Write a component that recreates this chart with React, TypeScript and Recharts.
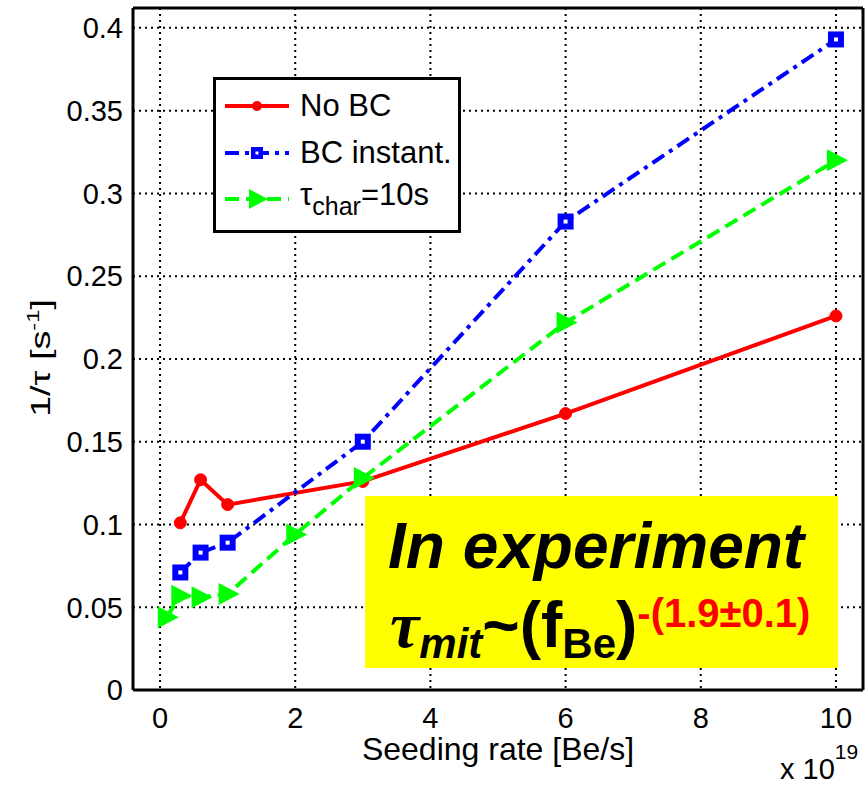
import React from "react";
import { LineChart, Line, XAxis, YAxis, CartesianGrid, Legend } from "recharts";

// seeding rate in units of 1e19 Be/s
const noBcX = [0.3, 0.6, 1, 3, 6, 10];
const noBcY = [0.101, 0.127, 0.112, 0.126, 0.167, 0.226];

const bcInstantX = [0.3, 0.6, 1, 3, 6, 10];
const bcInstantY = [0.071, 0.083, 0.089, 0.15, 0.283, 0.393];

const tauCharX = [0.1, 0.3, 0.6, 1, 2, 3, 6, 10];
const tauCharY = [0.044, 0.057, 0.056, 0.058, 0.094, 0.128, 0.222, 0.32];

const xTicks = [0, 2, 4, 6, 8, 10];
const yTicks = [0, 0.05, 0.1, 0.15, 0.2, 0.25, 0.3, 0.35, 0.4];

const RED = "#ff0000";
const BLUE = "#0000ff";
const GREEN = "#00ff00";
const FONT = "'Liberation Sans', Arial, sans-serif";

const toPoints = (xs: number[], ys: number[]) => xs.map((x, i) => ({ x, y: ys[i] }));

const noBc = toPoints(noBcX, noBcY);
const bcInstant = toPoints(bcInstantX, bcInstantY);
const tauChar = toPoints(tauCharX, tauCharY);

function RedDot(props: any) {
  const { cx, cy } = props;
  if (cx == null || cy == null) return null;
  return <circle key={`r${cx}`} cx={cx} cy={cy} r={6} fill={RED} stroke={RED} />;
}

function BlueSquare(props: any) {
  const { cx, cy } = props;
  if (cx == null || cy == null) return null;
  return (
    <g key={`b${cx}`}>
      <rect x={cx - 8} y={cy - 8} width={16} height={16} fill={BLUE} />
      <rect x={cx - 2} y={cy - 2} width={4} height={4} fill="#fff" />
    </g>
  );
}

function GreenTriangle(props: any) {
  const { cx, cy } = props;
  if (cx == null || cy == null) return null;
  return (
    <polygon
      key={`g${cx}`}
      points={`${cx - 9},${cy - 11} ${cx + 12},${cy} ${cx - 9},${cy + 11}`}
      fill={GREEN}
    />
  );
}

const legendRows = [
  { name: "No BC", color: RED, dash: undefined, marker: "dot" },
  { name: "BC instant.", color: BLUE, dash: "14 6 4 6", marker: "square" },
  { name: "tau", color: GREEN, dash: "14 7", marker: "tri" },
];

function LegendBox() {
  return (
    <div
      style={{
        width: 242,
        height: 150,
        border: "3px solid #000",
        background: "#fff",
        fontFamily: FONT,
        fontSize: 31,
        color: "#000",
        position: "relative",
      }}
    >
      {legendRows.map((row, i) => (
        <div
          key={row.name}
          style={{ position: "absolute", left: 0, top: 4 + i * 46.5, height: 44, display: "flex", alignItems: "center" }}
        >
          <svg width={84} height={44} style={{ display: "block" }}>
            <line x1={9} x2={73} y1={22} y2={22} stroke={row.color} strokeWidth={4} strokeDasharray={row.dash} />
            {row.marker === "dot" && <circle cx={41} cy={22} r={5} fill={RED} />}
            {row.marker === "square" && (
              <g>
                <rect x={35} y={16} width={12} height={12} fill={BLUE} />
                <rect x={39.5} y={20.5} width={3} height={3} fill="#fff" />
              </g>
            )}
            {row.marker === "tri" && <polygon points="33,12 52,22 33,32" fill={GREEN} />}
          </svg>
          {row.marker === "tri" ? (
            <span style={{ whiteSpace: "nowrap" }}>
              τ<sub style={{ fontSize: 25, verticalAlign: -10 }}>char</sub>=10s
            </span>
          ) : (
            <span style={{ whiteSpace: "nowrap" }}>{row.name}</span>
          )}
        </div>
      ))}
    </div>
  );
}

export default function App() {
  const axisLine = { stroke: "#000", strokeWidth: 3 };
  const tickStyle = { fill: "#000", fontSize: 29, fontFamily: FONT };
  return (
    <div style={{ position: "absolute", left: 0, top: 0, width: 867, height: 785, background: "#fff" }}>
      <LineChart width={867} height={785} margin={{ top: 8, right: 4, bottom: 0, left: 0 }}>
        <CartesianGrid stroke="#000" strokeWidth={2} strokeDasharray="2 4" />
        <XAxis
          type="number"
          dataKey="x"
          domain={[-0.4, 10.4]}
          ticks={xTicks}
          allowDataOverflow
          height={95}
          tickLine={false}
          tickSize={6}
          tickMargin={11}
          axisLine={axisLine}
          tick={tickStyle}
          label={{ value: "Seeding rate [Be/s]", position: "insideBottom", offset: 25, fill: "#000", fontSize: 32, fontFamily: FONT }}
        />
        <XAxis
          xAxisId="bottomTicks"
          type="number"
          dataKey="x"
          domain={[-0.4, 10.4]}
          ticks={xTicks}
          allowDataOverflow
          mirror
          tick={false}
          tickSize={9}
          tickLine={{ stroke: "#000", strokeWidth: 3 }}
          axisLine={false}
        />
        <XAxis
          xAxisId="top"
          orientation="top"
          type="number"
          dataKey="x"
          domain={[-0.4, 10.4]}
          ticks={xTicks}
          allowDataOverflow
          mirror
          tick={false}
          tickSize={9}
          tickLine={{ stroke: "#000", strokeWidth: 3 }}
          axisLine={axisLine}
        />
        <YAxis
          type="number"
          domain={[0, 0.412]}
          ticks={yTicks}
          allowDataOverflow
          width={133}
          tickLine={false}
          tickSize={6}
          tickMargin={4}
          axisLine={axisLine}
          tick={tickStyle}
        />
        <YAxis
          yAxisId="leftTicks"
          type="number"
          domain={[0, 0.412]}
          ticks={yTicks}
          allowDataOverflow
          mirror
          tick={false}
          tickSize={9}
          tickLine={{ stroke: "#000", strokeWidth: 3 }}
          axisLine={false}
        />
        <YAxis
          yAxisId="right"
          orientation="right"
          type="number"
          domain={[0, 0.412]}
          ticks={yTicks}
          allowDataOverflow
          mirror
          tick={false}
          tickSize={9}
          tickLine={{ stroke: "#000", strokeWidth: 3 }}
          axisLine={axisLine}
        />
        <Line
          data={noBc}
          dataKey="y"
          name="No BC"
          stroke={RED}
          strokeWidth={4}
          dot={RedDot}
          activeDot={false}
          isAnimationActive={false}
        />
        <Line
          data={bcInstant}
          dataKey="y"
          name="BC instant."
          stroke={BLUE}
          strokeWidth={4}
          strokeDasharray="14 6 4 6"
          dot={BlueSquare}
          activeDot={false}
          isAnimationActive={false}
        />
        <Line
          data={tauChar}
          dataKey="y"
          name="tau_char=10s"
          stroke={GREEN}
          strokeWidth={4}
          strokeDasharray="14 7"
          dot={GreenTriangle}
          activeDot={false}
          isAnimationActive={false}
        />
        <Legend
          layout="vertical"
          align="center"
          verticalAlign="middle"
          content={() => <LegendBox />}
          wrapperStyle={{ left: 213, top: 77, width: 248, height: 156 }}
        />
      </LineChart>
      <svg
        width={867}
        height={785}
        style={{ position: "absolute", left: 0, top: 0, pointerEvents: "none" }}
      >
        <text
          transform="translate(50,358) rotate(-90) scale(1.4,1)"
          textAnchor="middle"
          fontFamily={FONT}
          fontSize={27}
          fill="#000"
        >
          1/τ [s<tspan fontSize={17} dy={-11}>-1</tspan>
          <tspan dy={11}>]</tspan>
        </text>
        <text x={780} y={779} fontFamily={FONT} fontSize={29} fill="#000">
          x 10<tspan fontSize={21} dy={-20}>19</tspan>
        </text>
        <rect x={365} y={496} width={473} height={172} fill="#ffff00" />
        <text
          x={388}
          y={568}
          fontFamily={FONT}
          fontSize={64}
          fontWeight="bold"
          fontStyle="italic"
          fill="#000"
        >
          In experiment
        </text>
        <text x={390} y={647} fontFamily={FONT} fontWeight="bold" fill="#000">
          <tspan fontFamily="'Liberation Serif', serif" fontStyle="italic" fontSize={66}>τ</tspan>
          <tspan fontStyle="italic" fontSize={42} dy={11}>mit</tspan>
          <tspan fontSize={64} dy={-11}>~(f</tspan>
          <tspan fontSize={42} dy={11}>Be</tspan>
          <tspan fontSize={64} dy={-11}>)</tspan>
          <tspan fontSize={40} fill={RED} dy={-20}>-(1.9±0.1)</tspan>
        </text>
      </svg>
    </div>
  );
}
